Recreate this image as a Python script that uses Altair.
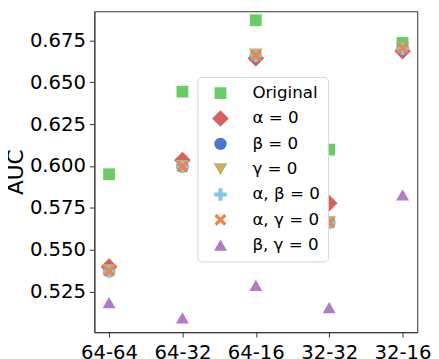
import altair as alt
import pandas as pd

configs = ["64-64", "64-32", "64-16", "32-32", "32-16"]
series = ["Original", "α = 0", "β = 0", "γ = 0", "α, β = 0", "α, γ = 0", "β, γ = 0"]

original = [0.5951, 0.6444, 0.6870, 0.6098, 0.6735]
alpha0 = [0.5399, 0.6035, 0.6643, 0.5778, 0.6686]
beta0 = [0.5372, 0.5998, 0.6655, 0.5662, 0.6700]
gamma0 = [0.5378, 0.6000, 0.6666, 0.5664, 0.6702]
alphabeta0 = [0.5372, 0.5996, 0.6658, 0.5662, 0.6700]
alphagamma0 = [0.5373, 0.5996, 0.6660, 0.5662, 0.6705]
betagamma0 = [0.5184, 0.5093, 0.5287, 0.5154, 0.5828]

values = [original, alpha0, beta0, gamma0, alphabeta0, alphagamma0, betagamma0]

colors = ["#6acc64", "#d65f5f", "#4878d0", "#c9ad64", "#82c6e2", "#ee854a", "#b27bc8"]
plus_path = "M-0.33,-1H0.33V-0.33H1V0.33H0.33V1H-0.33V0.33H-1V-0.33H-0.33Z"
x_path = "M-1,-0.6L-0.6,-1L0,-0.4L0.6,-1L1,-0.6L0.4,0L1,0.6L0.6,1L0,0.4L-0.6,1L-1,0.6L-0.4,0Z"
shapes = ["square", "diamond", "circle", "triangle-down", plus_path, x_path, "triangle-up"]
sizes = [144, 289, 160, 196, 160, 150, 175]

rows = []
for si, (name, vals) in enumerate(zip(series, values)):
    for c, v in zip(configs, vals):
        rows.append({"config": c, "series": name, "auc": v, "order": si})
df = pd.DataFrame(rows)

FONT = "DejaVu Sans"

chart = alt.Chart(df).mark_point(filled=True, opacity=1, strokeWidth=0).encode(
    x=alt.X("config:N", sort=configs,
            scale=alt.Scale(type="point", padding=0.2),
            axis=alt.Axis(title=None, labelAngle=0, labelFontSize=20, labelFont=FONT,
                          labelColor="black", tickSize=5, labelPadding=6,
                          domainColor="#333", tickColor="#333", grid=False)),
    y=alt.Y("auc:Q",
            scale=alt.Scale(domain=[0.5008, 0.6924], nice=False, zero=False),
            axis=alt.Axis(title="AUC", values=[0.525, 0.55, 0.575, 0.6, 0.625, 0.65, 0.675],
                          format=".3f", labelFontSize=20, labelFont=FONT, labelColor="black",
                          tickSize=5, labelPadding=4, domainColor="#333", tickColor="#333",
                          grid=False, titleFontSize=22, titleFont=FONT, titleFontWeight="normal",
                          titleColor="black", titleX=-73, titleY=163.5, titleBaseline="alphabetic",
                          titleAngle=270, titleAlign="center")),
    color=alt.Color("series:N", sort=series,
                    scale=alt.Scale(domain=series, range=colors),
                    legend=alt.Legend(title=None, orient="none", legendX=105, legendY=67,
                                      labelFontSize=17, labelFont=FONT, labelColor="black",
                                      padding=8, symbolOffset=7, labelOffset=24,
                                      rowPadding=7.8, clipHeight=17,
                                      strokeColor="#d6d6d6", fillColor="white",
                                      cornerRadius=4, symbolStrokeWidth=0)),
    shape=alt.Shape("series:N", sort=series, scale=alt.Scale(domain=series, range=shapes)),
    size=alt.Size("series:N", sort=series,
                  scale=alt.Scale(type="ordinal", domain=series, range=sizes)),
    order=alt.Order("order:Q"),
).properties(
    width=329, height=327,
    autosize=alt.AutoSizeParams(type="none"),
    padding={"left": 88, "top": 0, "right": 14, "bottom": 24},
).configure_view(
    stroke="#333", strokeWidth=1
)

chart.save("out.html", embed_options={"renderer": "svg", "actions": False})
